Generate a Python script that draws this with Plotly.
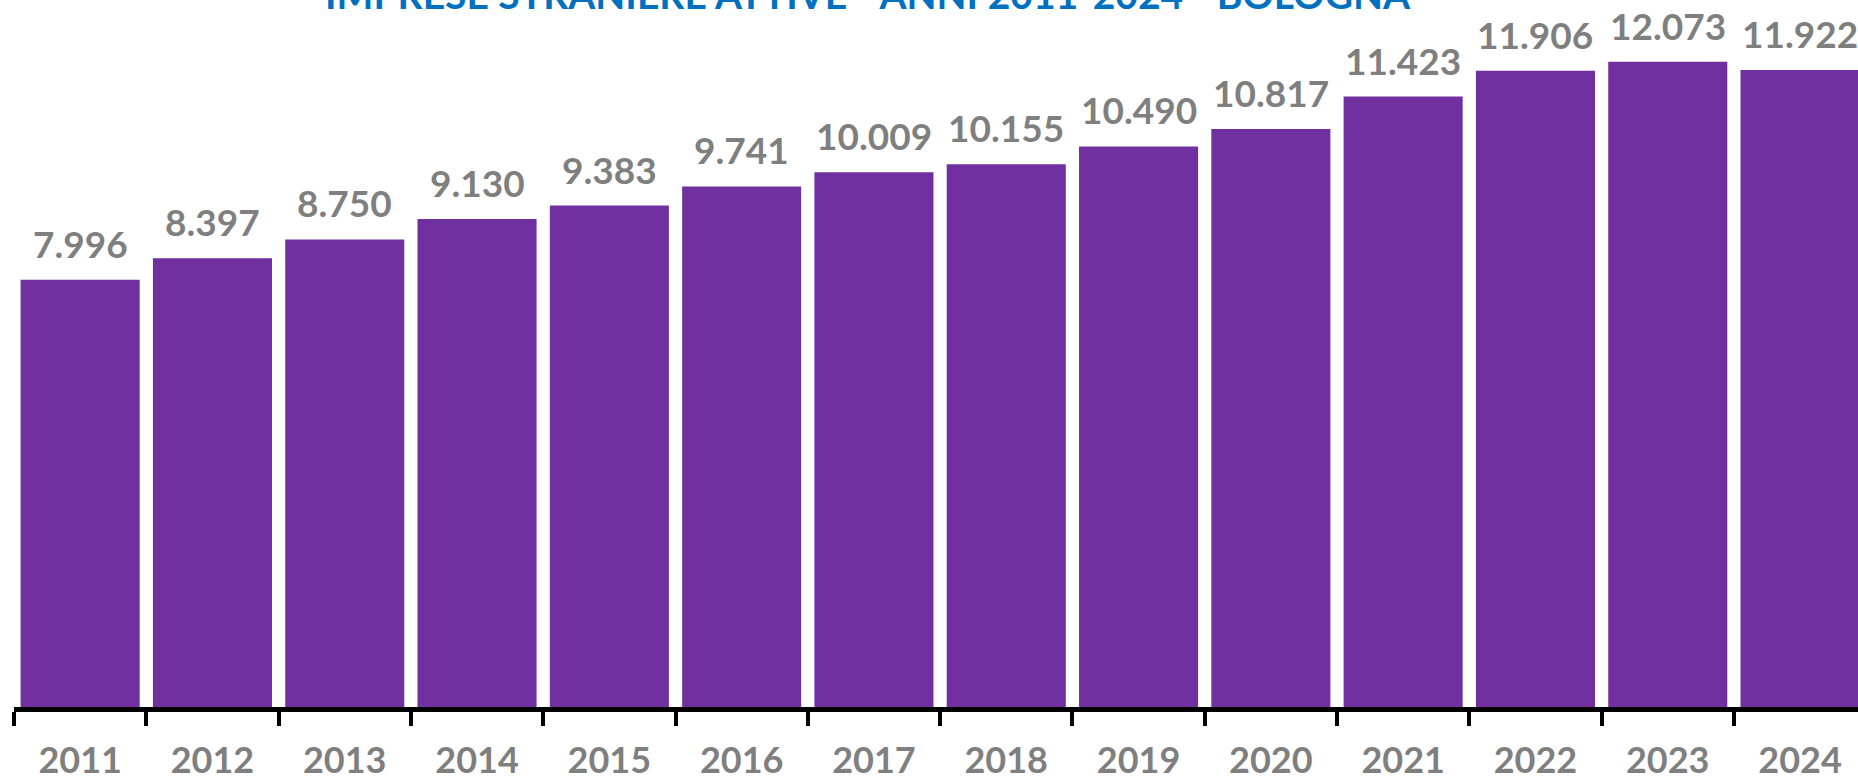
import plotly.graph_objects as go

# ---- data ----
years = ["2011", "2012", "2013", "2014", "2015", "2016", "2017",
         "2018", "2019", "2020", "2021", "2022", "2023", "2024"]
imprese = [7996, 8397, 8750, 9130, 9383, 9741, 10009,
           10155, 10490, 10817, 11423, 11906, 12073, 11922]
title_text = "IMPRESE STRANIERE ATTIVE - ANNI 2011-2024 - BOLOGNA"

BAR = "#7030A0"
GRAY = "#7F7F7F"
BLUE = "#0070C0"
FONT = "Lato"

W, H = 1858, 780
ML, MB = 14, 73

fig = go.Figure()
fig.add_trace(go.Bar(
    x=years, y=imprese, marker=dict(color=BAR, line=dict(width=0)),
    hoverinfo="x+y", showlegend=False,
))

def fmt(v):
    return f"{v:,}".replace(",", ".")

annotations = []
for i, v in enumerate(imprese):
    annotations.append(dict(
        x=i, y=v, xref="x", yref="y", text="<b>" + fmt(v) + "</b>", showarrow=False,
        yanchor="bottom", xanchor="center", yshift=12,
        font=dict(family=FONT, size=37, color=GRAY),
    ))

# title (partially cut off at the top, as in the reference)
annotations.append(dict(
    x=(868 - ML) / (W - ML), y=1, xref="paper", yref="paper",
    text="<b>" + title_text + "</b>", showarrow=False,
    xanchor="center", yanchor="bottom", yshift=-19,
    font=dict(family=FONT, size=39, color=BLUE),
))

n = len(years)
xmax = -0.5 + (W - ML) / 132.3
boundaries = [i - 0.5 for i in range(n + 1)]

fig.update_layout(
    width=W, height=H,
    margin=dict(l=ML, r=0, t=0, b=MB, pad=0, autoexpand=False),
    paper_bgcolor="white", plot_bgcolor="white",
    bargap=0.1,
    annotations=annotations,
    xaxis=dict(
        type="category", range=[-0.5, xmax], automargin=False,
        showgrid=False, zeroline=False,
        showline=True, linecolor="black", linewidth=5,
        ticks="outside", tickson="boundaries", ticklen=14, tickwidth=4,
        tickcolor="black",
        tickfont=dict(family=FONT, size=36, color=GRAY, weight="bold"),
        ticklabelstandoff=18,
    ),
    xaxis2=dict(
        overlaying="x", anchor="y", side="bottom", automargin=False,
        range=[-0.5, xmax], tickmode="array", tickvals=boundaries,
        ticks="inside", ticklen=12, tickwidth=4, tickcolor="black",
        showticklabels=False, showgrid=False, zeroline=False, showline=False,
    ),
    yaxis=dict(range=[0, 13230], visible=False, showgrid=False, automargin=False),
)

fig.write_html("out.html", config={"displayModeBar": False},
               post_script="document.body.style.margin='0';document.body.style.overflow='hidden';")
